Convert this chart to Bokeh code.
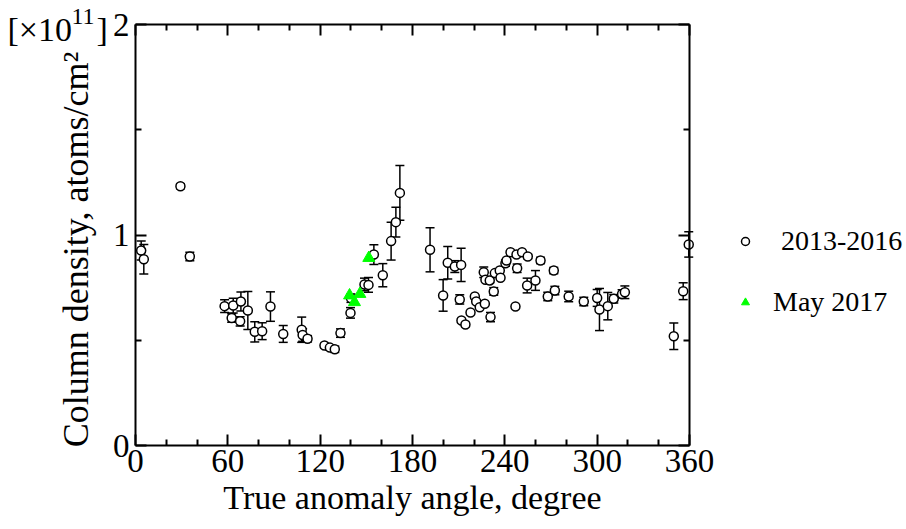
import math
from bokeh.plotting import figure
from bokeh.models import (ColumnDataSource, Whisker, TeeHead, FixedTicker, LinearAxis,
                          Range1d, Legend, LegendItem, Label)
from bokeh.embed import file_html
from bokeh.resources import INLINE

# ---- data ----
angle_obs = [3.7, 5.4, 29.2, 35.3, 57.9, 63.5, 62.5, 68.5, 68.0, 73.0, 77.5, 82.3, 87.7, 96.0,
             108.0, 108.6, 111.8, 122.8, 126.3, 129.5, 133.2, 139.7, 140.0, 148.8, 151.4, 154.9,
             160.7, 166.1, 169.2, 171.8, 191.4, 199.9, 202.9, 207.5, 211.6, 210.7, 211.8, 214.4,
             217.7, 220.5, 221.4, 223.7, 226.3, 227.4, 230.2, 227.0, 230.7, 232.8, 233.5, 236.7,
             237.2, 240.4, 241.1, 243.7, 247.6, 248.0, 246.9, 251.2, 254.9, 254.5, 259.9, 263.2,
             267.9, 271.8, 272.5, 281.5, 291.3, 300.0, 301.5, 306.9, 310.8, 316.2, 318.0, 349.8,
             355.9, 359.5]
dens_obs = [0.926, 0.885, 1.232, 0.898, 0.662, 0.665, 0.606, 0.684, 0.590, 0.641, 0.540, 0.543,
            0.660, 0.530, 0.550, 0.525, 0.507, 0.475, 0.465, 0.457, 0.534, 0.630, 0.700, 0.765,
            0.763, 0.907, 0.809, 0.971, 1.061, 1.200, 0.930, 0.713, 0.868, 0.850, 0.858, 0.694,
            0.594, 0.575, 0.632, 0.708, 0.684, 0.657, 0.823, 0.787, 0.784, 0.673, 0.610, 0.732,
            0.819, 0.831, 0.797, 0.866, 0.879, 0.918, 0.907, 0.842, 0.660, 0.918, 0.898, 0.760,
            0.784, 0.879, 0.708, 0.831, 0.736, 0.708, 0.684, 0.701, 0.646, 0.662, 0.697, 0.720,
            0.728, 0.519, 0.733, 0.955]
err_obs = [0.045, 0.07, 0.012, 0.02, 0.03, 0.035, 0.02, 0.045, 0.022, 0.09, 0.048, 0.04, 0.07,
           0.04, 0.06, 0.03, 0.015, 0.01, 0.012, 0.015, 0.02, 0.025, 0.02, 0.03, 0.035, 0.047,
           0.055, 0.09, 0.071, 0.13, 0.105, 0.075, 0.077, 0.028, 0.079, 0.022, 0.01, 0.01, 0.0,
           0.0, 0.0, 0.0, 0.025, 0.0, 0.01, 0.0, 0.022, 0.018, 0.0, 0.0, 0.0, 0.015, 0.0, 0.0,
           0.0, 0.02, 0.0, 0.0, 0.01, 0.035, 0.047, 0.015, 0.02, 0.015, 0.02, 0.025, 0.02, 0.04,
           0.10, 0.065, 0.02, 0.02, 0.03, 0.063, 0.04, 0.06]
angle_2017 = [139.1, 142.3, 145.8, 151.6]
dens_2017 = [0.713, 0.681, 0.720, 0.891]

x_ticks = [0, 60, 120, 180, 240, 300, 360]
x_minor = [20, 40, 80, 100, 140, 160, 200, 220, 260, 280, 320, 340]
y_ticks = [0, 1, 2]
y_minor = [0.5, 1.5]
X_MIN, X_MAX = 0, 360
Y_MIN, Y_MAX = 0, 2

SERIF = "Liberation Serif"
W, H = 906, 529
# pixel geometry of the axes box inside the canvas
BOX_L, BOX_R, BOX_T, BOX_B = 135, 689, 24, 445
PX_PER_DEG = (BOX_R - BOX_L) / (X_MAX - X_MIN)
PX_PER_UNIT = (BOX_B - BOX_T) / (Y_MAX - Y_MIN)

def deg(px):
    return X_MIN + (px - BOX_L) / PX_PER_DEG

def val(py):
    return Y_MIN + (BOX_B - py) / PX_PER_UNIT

src = ColumnDataSource(dict(
    x=angle_obs, y=dens_obs,
    lo=[d - e for d, e in zip(dens_obs, err_obs)],
    hi=[d + e for d, e in zip(dens_obs, err_obs)],
))
src2 = ColumnDataSource(dict(x=angle_2017, y=dens_2017))

p = figure(width=W, height=H, output_backend="svg", toolbar_location=None,
           x_range=Range1d(deg(0), deg(W)), y_range=Range1d(val(H), val(0)),
           x_axis_type=None, y_axis_type=None,
           min_border=0, min_border_left=0, min_border_right=0,
           min_border_top=0, min_border_bottom=0)
p.grid.visible = False
p.outline_line_color = None
p.background_fill_color = "white"
p.border_fill_color = "white"

def style_axis(ax, ticks, minor, loc, bounds, labels=True):
    ax.ticker = FixedTicker(ticks=ticks, minor_ticks=minor)
    ax.fixed_location = loc
    ax.bounds = bounds
    ax.axis_line_color = "black"
    ax.axis_line_width = 2
    ax.major_tick_in = 11
    ax.major_tick_out = 0
    ax.minor_tick_in = 6
    ax.minor_tick_out = 0
    ax.major_tick_line_width = 2
    ax.minor_tick_line_width = 2
    ax.major_tick_line_color = "black"
    ax.minor_tick_line_color = "black"
    ax.major_label_text_font = SERIF
    ax.major_label_text_font_size = "33px"
    ax.major_label_text_color = "black"
    if not labels:
        ax.major_label_text_alpha = 0
        ax.major_label_text_font_size = "1px"

xa = LinearAxis()
style_axis(xa, x_ticks, x_minor, Y_MIN, (X_MIN, X_MAX))
xa.major_label_standoff = 4
xa.axis_label = "True anomaly angle, degree"
xa.axis_label_text_font = SERIF
xa.axis_label_text_font_size = "34px"
xa.axis_label_text_font_style = "normal"
xa.axis_label_text_color = "black"
xa.axis_label_standoff = 4
p.add_layout(xa, "below")

ya = LinearAxis()
style_axis(ya, y_ticks, y_minor, X_MIN, (Y_MIN, Y_MAX))
ya.major_label_standoff = 6
p.add_layout(ya, "left")

top = LinearAxis()
style_axis(top, x_ticks, x_minor, Y_MAX, (X_MIN, X_MAX), labels=False)
p.add_layout(top, "above")
right = LinearAxis()
style_axis(right, y_ticks, y_minor, X_MAX, (Y_MIN, Y_MAX), labels=False)
p.add_layout(right, "right")

# y-axis title, placed as in the reference
p.add_layout(Label(x=deg(75), y=val(249), text="Column density, atoms/cm\u00b2", angle=math.pi / 2,
                   text_font=SERIF, text_font_size="36px", text_align="center",
                   text_baseline="alphabetic", text_color="black"))

wh = Whisker(source=src, base="x", lower="lo", upper="hi", dimension="height",
             line_color="black", line_width=1.5,
             upper_head=TeeHead(size=9, line_color="black", line_width=1.5),
             lower_head=TeeHead(size=9, line_color="black", line_width=1.5),
             level="underlay")
p.add_layout(wh)

r1 = p.scatter("x", "y", source=src, marker="circle", size=9, fill_color="white",
               line_color="black", line_width=1.5)
r2 = p.scatter("x", "y", source=src2, marker="triangle", size=12, fill_color="#00ff00",
               line_color="#00ff00", line_width=1)

def make_legend(label, rend, cx, cy, text_left):
    # cx, cy: glyph centre in canvas pixels (from top-left)
    lg = Legend(items=[LegendItem(label=label, renderers=[rend])],
                location=(cx - 10, (H - cy) - 15),
                glyph_width=20, glyph_height=30, label_height=30, padding=0, margin=0,
                label_standoff=text_left - (cx + 10), border_line_alpha=0,
                background_fill_alpha=0, label_text_font=SERIF,
                label_text_font_size="28px", label_text_color="black")
    p.add_layout(lg, "center")

make_legend("2013-2016", r1, 745, 242, 781)
make_legend("May 2017", r2, 745, 303, 773)

for txt, px, py, fs in [("[\u00d710", 7, 29, "34px"), ("11", 71, 16, "24px"), ("]", 96, 29, "34px")]:
    p.add_layout(Label(x=deg(px), y=val(py), text=txt, text_font=SERIF, text_font_size=fs,
                       text_baseline="middle", text_align="left", text_color="black"))

open("out.html", "w").write(file_html(p, INLINE))
